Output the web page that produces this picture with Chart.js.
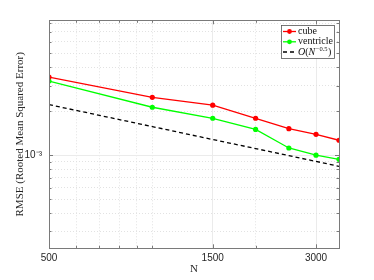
<!DOCTYPE html>
<html>
<head>
<meta charset="utf-8">
<script src="https://cdn.jsdelivr.net/npm/chart.js@4.4.1/dist/chart.umd.min.js"></script>
<style>
  html, body { margin: 0; padding: 0; background: #fff; }
  #wrap { width: 374px; height: 280px; }
</style>
</head>
<body>
<div id="wrap"><canvas id="rmseChart"></canvas></div>
<script>
// values
const nValues = [500, 1000, 1500, 2000, 2500, 3000, 3500];
const cubeRmse = [3.43e-3, 2.49e-3, 2.20e-3, 1.79e-3, 1.52e-3, 1.39e-3, 1.265e-3];
const ventricleRmse = [3.22e-3, 2.13e-3, 1.79e-3, 1.50e-3, 1.12e-3, 1.00e-3, 0.937e-3];
const refRmse = [2.22e-3, 1.57e-3, 1.28e-3, 1.11e-3, 0.993e-3, 0.906e-3, 0.839e-3];

const xTickValues = [500, 600, 700, 800, 900, 1000, 1500, 2000, 3000, 3500];
const xMajorTicks = [500, 1500, 3000];
const yTickValues = [3e-4, 4e-4, 5e-4, 6e-4, 7e-4, 8e-4, 9e-4, 1e-3, 2e-3, 3e-3, 4e-3, 5e-3, 6e-3, 7e-3, 8e-3];
const yMajorTicks = [1e-3];
const yLabelText = '10\u207B\u00B3';

const X_MIN = 500, X_MAX = 3500;
const Y_MIN = 2.3e-4, Y_MAX = 8.4e-3;

function isMajor(list, v) {
    return list.some(m => Math.abs(m - v) / m < 1e-6);
}

// box, inward ticks and legend like the matlab figure
const figurePlugin = {
    id: 'figureBox',
    afterDraw(chart) {
        const ctx = chart.ctx;
        const a = chart.chartArea;
        const xs = chart.scales.x, ys = chart.scales.y;
        ctx.save();
        ctx.strokeStyle = '#7a7a7a';
        ctx.lineWidth = 1;
        ctx.strokeRect(Math.round(a.left) + 0.5, Math.round(a.top) + 0.5,
            Math.round(a.right - a.left), Math.round(a.bottom - a.top));

        ctx.beginPath();
        xTickValues.forEach(v => {
            const px = Math.round(xs.getPixelForValue(v)) + 0.5;
            const len = isMajor(xMajorTicks, v) ? 4 : 2.5;
            ctx.moveTo(px, a.bottom); ctx.lineTo(px, a.bottom - len);
            ctx.moveTo(px, a.top); ctx.lineTo(px, a.top + len);
        });
        yTickValues.forEach(v => {
            const py = Math.round(ys.getPixelForValue(v)) + 0.5;
            const len = isMajor(yMajorTicks, v) ? 4 : 2.5;
            ctx.moveTo(a.left, py); ctx.lineTo(a.left + len, py);
            ctx.moveTo(a.right, py); ctx.lineTo(a.right - len, py);
        });
        ctx.stroke();

        // legend
        const bx = 281.5, by = 25.5, bw = 53, bh = 33;
        ctx.fillStyle = '#fff';
        ctx.fillRect(bx, by, bw, bh);
        ctx.strokeStyle = '#555';
        ctx.lineWidth = 0.8;
        ctx.strokeRect(bx, by, bw, bh);

        const rows = [31.5, 41.8, 52];
        const ds = chart.data.datasets;
        ds.forEach((d, i) => {
            const y = rows[i];
            ctx.save();
            ctx.strokeStyle = d.borderColor;
            ctx.lineWidth = d.borderWidth;
            ctx.setLineDash(d.borderDash || []);
            ctx.beginPath();
            ctx.moveTo(283, y); ctx.lineTo(296, y);
            ctx.stroke();
            ctx.restore();
            if (d.pointRadius > 0) {
                ctx.fillStyle = d.pointBackgroundColor;
                ctx.beginPath();
                ctx.arc(289.5, y, 2.4, 0, Math.PI * 2);
                ctx.fill();
            }
        });
        ctx.fillStyle = '#111';
        ctx.textBaseline = 'middle';
        ctx.textAlign = 'left';
        ctx.font = '10px "Liberation Serif"';
        ctx.fillText('cube', 298, rows[0]);
        ctx.fillText('ventricle', 298, rows[1]);
        // O(N^-0.5)
        let x = 298;
        ctx.font = 'italic 10px "Liberation Serif"';
        ctx.fillText('O', x, rows[2]); x += ctx.measureText('O').width;
        ctx.font = '10px "Liberation Serif"';
        ctx.fillText('(', x, rows[2]); x += ctx.measureText('(').width;
        ctx.font = 'italic 10px "Liberation Serif"';
        ctx.fillText('N', x, rows[2]); x += ctx.measureText('N').width + 0.5;
        ctx.font = '6.5px "Liberation Serif"';
        ctx.fillText('\u22120.5', x, rows[2] - 3); x += ctx.measureText('\u22120.5').width + 0.5;
        ctx.font = '10px "Liberation Serif"';
        ctx.fillText(')', x, rows[2]);
        ctx.restore();
    }
};

document.addEventListener('DOMContentLoaded', function () {
    const ctx = document.getElementById('rmseChart').getContext('2d');
    new Chart(ctx, {
        type: 'line',
        data: {
            datasets: [{
                label: 'cube',
                data: nValues.map((n, i) => ({x: n, y: cubeRmse[i]})),
                borderColor: '#ff0000',
                backgroundColor: '#ff0000',
                pointBackgroundColor: '#ff0000',
                pointBorderColor: '#ff0000',
                borderWidth: 1.3,
                pointRadius: 2.6,
                pointBorderWidth: 0,
                tension: 0,
                fill: false
            }, {
                label: 'ventricle',
                data: nValues.map((n, i) => ({x: n, y: ventricleRmse[i]})),
                borderColor: '#00ff00',
                backgroundColor: '#00ff00',
                pointBackgroundColor: '#00ff00',
                pointBorderColor: '#00ff00',
                borderWidth: 1.3,
                pointRadius: 2.6,
                pointBorderWidth: 0,
                tension: 0,
                fill: false
            }, {
                label: 'O(N^-0.5)',
                data: nValues.map((n, i) => ({x: n, y: refRmse[i]})),
                borderColor: '#000000',
                backgroundColor: '#000000',
                pointBackgroundColor: '#000000',
                borderWidth: 1.3,
                borderDash: [4, 3],
                pointRadius: 0,
                tension: 0,
                fill: false
            }]
        },
        options: {
            responsive: true,
            maintainAspectRatio: false,
            animation: false,
            layout: { padding: { left: 0, top: 20.3, right: 35, bottom: 0 } },
            plugins: {
                legend: { display: false },
                tooltip: { enabled: false }
            },
            scales: {
                x: {
                    type: 'logarithmic',
                    min: X_MIN,
                    max: X_MAX,
                    afterBuildTicks: axis => { axis.ticks = xTickValues.map(v => ({value: v})); },
                    afterFit: axis => { axis.height = 31.7; },
                    ticks: {
                        autoSkip: false,
                        maxRotation: 0,
                        padding: 4,
                        color: '#262626',
                        font: { family: '"Liberation Sans", Arial, sans-serif', size: 10 },
                        callback: v => isMajor(xMajorTicks, v) ? String(v) : ''
                    },
                    grid: {
                        drawTicks: false,
                        lineWidth: 1,
                        color: c => isMajor(xMajorTicks, c.tick.value) ? '#ebebeb' : '#e2e2e2'
                    },
                    border: {
                        display: false,
                        dash: c => (c.tick && isMajor(xMajorTicks, c.tick.value)) ? [] : [1, 2]
                    },
                    title: {
                        display: true,
                        text: 'N',
                        color: '#262626',
                        font: { family: '"Liberation Serif", serif', size: 11 },
                        padding: { top: 0, bottom: 4 }
                    }
                },
                y: {
                    type: 'logarithmic',
                    min: Y_MIN,
                    max: Y_MAX,
                    afterBuildTicks: axis => { axis.ticks = yTickValues.map(v => ({value: v})); },
                    afterFit: axis => { axis.width = 49; },
                    ticks: {
                        autoSkip: false,
                        padding: 7,
                        color: '#262626',
                        font: { family: '"Liberation Sans", Arial, sans-serif', size: 10 },
                        callback: v => isMajor(yMajorTicks, v) ? yLabelText : ''
                    },
                    grid: {
                        drawTicks: false,
                        lineWidth: 1,
                        color: c => isMajor(yMajorTicks, c.tick.value) ? '#ebebeb' : '#e2e2e2'
                    },
                    border: {
                        display: false,
                        dash: c => (c.tick && isMajor(yMajorTicks, c.tick.value)) ? [] : [1, 2]
                    },
                    title: {
                        display: true,
                        text: 'RMSE (Rooted Mean Squared Error)',
                        color: '#262626',
                        font: { family: '"Liberation Serif", serif', size: 11 },
                        padding: { top: 13.4, bottom: 0 }
                    }
                }
            }
        },
        plugins: [figurePlugin]
    });
});
</script>
</body>
</html>
